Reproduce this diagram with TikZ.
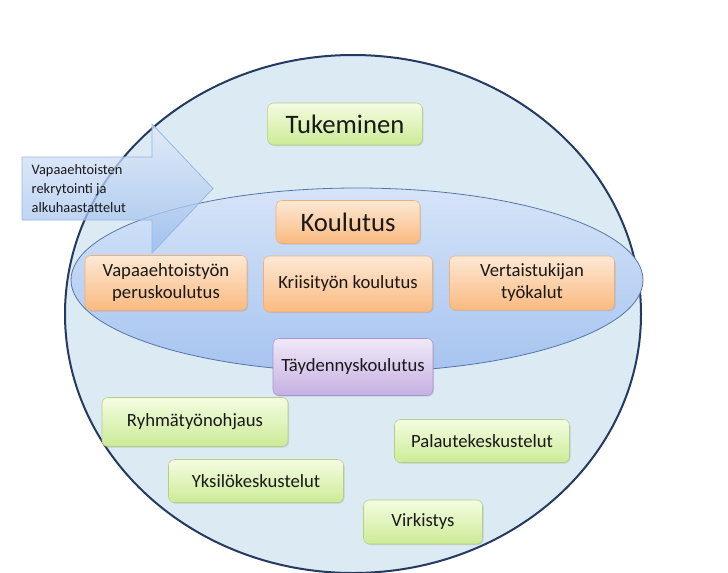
\documentclass[tikz,border=0pt]{standalone}
\usepackage{fontspec}
\setmainfont{Carlito}
\usetikzlibrary{shadows}
\definecolor{outerfill}{RGB}{219,234,243}
\definecolor{outerline}{RGB}{36,58,96}
\definecolor{innertop}{RGB}{214,228,248}
\definecolor{innerbot}{RGB}{166,196,240}
\definecolor{innerline}{RGB}{84,118,168}
\definecolor{arrowtop}{RGB}{226,235,250}
\definecolor{arrowbot}{RGB}{150,186,236}
\definecolor{arrowline}{RGB}{150,182,226}
\definecolor{greentop}{RGB}{244,252,226}
\definecolor{greenbot}{RGB}{204,235,150}
\definecolor{greenline}{RGB}{180,206,132}
\definecolor{orangetop}{RGB}{253,232,212}
\definecolor{orangebot}{RGB}{250,186,128}
\definecolor{orangeline}{RGB}{238,176,120}
\definecolor{purpletop}{RGB}{240,232,248}
\definecolor{purplebot}{RGB}{198,176,226}
\definecolor{purpleline}{RGB}{170,148,206}

\tikzset{
  box/.style={draw, rounded corners=4.5pt, align=center, inner sep=2pt,
    drop shadow={opacity=0.25, shadow xshift=0.8pt, shadow yshift=-0.8pt},
    font=\fontsize{14}{16.5}\selectfont, text=black!90},
  greenbox/.style={box, draw=greenline, top color=greentop, bottom color=greenbot},
  orangebox/.style={box, draw=orangeline, top color=orangetop, bottom color=orangebot},
  purplebox/.style={box, draw=purpleline, top color=purpletop, bottom color=purplebot},
  bigtext/.style={font=\fontsize{20}{24}\selectfont}
}

\begin{document}
\begin{tikzpicture}[x=0.75pt, y=-0.75pt]
\useasboundingbox (0,0) rectangle (728,572);
% areas
\draw[outerline, line width=1.5pt, fill=outerfill] (353,314) ellipse [x radius=216pt, y radius=194.25pt];
\draw[innerline, line width=0.6pt, top color=innertop, bottom color=innerbot] (357,280) ellipse [x radius=214.5pt, y radius=69pt];
% recruitment arrow
\draw[arrowline, line width=0.6pt, top color=arrowtop, bottom color=arrowbot, fill opacity=0.75]
  (22,157) -- (152,157) -- (152,124) -- (213,188.5) -- (152,253) -- (152,220) -- (22,220) -- cycle;
\node[anchor=west, align=left, font=\fontsize{10.8}{14}\selectfont, text=black!90] (rekry) at (27,188.5)
  {Vapaaehtoisten\\rekrytointi ja\\alkuhaastattelut};
% headings
\node[greenbox, bigtext, minimum width=116pt, minimum height=31.5pt] (tuki) at (345,124) {Tukeminen};
\node[orangebox, bigtext, minimum width=108pt, minimum height=32.25pt] (koulutus) at (348,222) {Koulutus};
% training
\node[orangebox, minimum width=121.5pt, minimum height=41.25pt] (perus) at (166,283) {Vapaaehtoistyön\\peruskoulutus};
\node[orangebox, minimum width=126.75pt, minimum height=42pt] (kriisi) at (348,284) {Kriisityön koulutus};
\node[orangebox, minimum width=123.75pt, minimum height=40.5pt] (vertais) at (532,283) {Vertaistukijan\\työkalut};
\node[purplebox, minimum width=120pt, minimum height=42.75pt] (taydennys) at (353,367) {Täydennyskoulutus};
% support
\node[greenbox, minimum width=139.5pt, minimum height=36.75pt] (ryhma) at (195,422) {Ryhmätyönohjaus};
\node[greenbox, minimum width=131.25pt, minimum height=32.25pt] (yksilo) at (256,481) {Yksilökeskustelut};
\node[greenbox, minimum width=131.25pt, minimum height=32.25pt] (palaute) at (482,441) {Palautekeskustelut};
\node[greenbox, minimum width=89.25pt, minimum height=33pt] (virkistys) at (423,522) {Virkistys};
\end{tikzpicture}
\end{document}
